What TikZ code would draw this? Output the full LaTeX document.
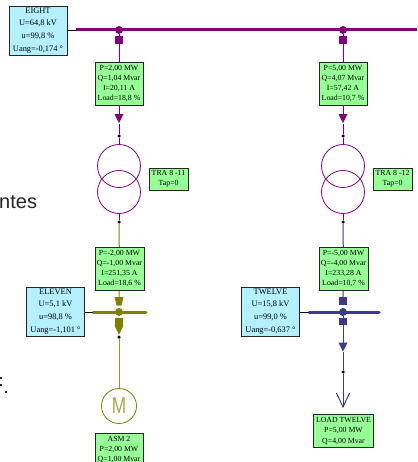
\documentclass[tikz,border=0pt]{standalone}
\usepackage{fontspec}
\setmainfont{Liberation Serif}
\newfontfamily\labelfont{Liberation Sans}
\usetikzlibrary{shapes.geometric}
\definecolor{busEight}{HTML}{800080}
\definecolor{busEleven}{HTML}{808000}
\definecolor{busTwelve}{HTML}{3B3B8A}
\definecolor{boxBlue}{HTML}{B4F0FF}
\definecolor{boxGreen}{HTML}{96FF96}
\tikzset{
  infobox/.style={draw=black!85, line width=0.9pt, align=center, inner sep=0pt},
  busbox/.style={infobox, fill=boxBlue, minimum width=58pt, minimum height=49pt, font=\fontsize{8.4}{12.8}\selectfont},
  flowbox/.style={infobox, fill=boxGreen, minimum width=48pt, minimum height=43pt, font=\fontsize{7.8}{10}\selectfont},
  tapbox/.style={infobox, fill=boxGreen, minimum width=39pt, minimum height=22pt, font=\fontsize{7.8}{10}\selectfont},
  dotnode/.style={circle, fill=black, inner sep=0pt, minimum size=3.5pt},
  junction/.style={circle, fill=#1, inner sep=0pt, minimum size=8pt},
  breaker/.style={rectangle, fill=#1, inner sep=0pt, minimum size=7.5pt},
  flowtip/.style={isosceles triangle, shape border rotate=-90, isosceles triangle stretches, fill=#1, inner sep=0pt, minimum width=9pt, minimum height=9pt},
  winding/.style={circle, draw=busEight, line width=0.8pt, inner sep=0pt, minimum size=43pt},
  branch/.style={line width=1pt},
  cuttext/.style={font=\labelfont\fontsize{20}{20}\selectfont, anchor=base west, inner sep=0pt, text=black!85},
  cutmark/.style={fill=black!85, inner sep=0pt, minimum size=2pt}
}
\begin{document}
\begin{tikzpicture}[x=1pt, y=-1pt]
  \useasboundingbox (0,0) rectangle (417,462);

  % Texto cortado a la izquierda
  \node[cuttext] (cut) at (-1,208) {ntes};
  \node[cutmark] (markA) at (1,378) {};
  \node[cutmark] (markB) at (0.5,385) {};
  \node[cutmark] (markC) at (6,392) {};

  % Barras
  \coordinate (eightL) at (76,30);
  \coordinate (eightR) at (417,30);
  \coordinate (elevenL) at (93,312);
  \coordinate (elevenR) at (146,312);
  \coordinate (twelveL) at (309,312);
  \coordinate (twelveR) at (379,312);
  \draw[busEight, line width=3pt] (eightL) -- (eightR);
  \draw[busEleven, line width=3pt, line cap=round] (elevenL) -- (elevenR);
  \draw[busTwelve, line width=3pt, line cap=round] (twelveL) -- (twelveR);

  % Cajas de las barras
  \node[busbox] (eight) at (38,30.5) {EIGHT\\U=64,8 kV\\u=99,8 \%\\Uang=-0,174 °};
  \node[busbox] (eleven) at (55.5,311.5) {ELEVEN\\U=5,1 kV\\u=98,8 \%\\Uang=-1,101 °};
  \node[busbox] (twelve) at (270.5,311.5) {TWELVE\\U=15,8 kV\\u=99,0 \%\\Uang=-0,637 °};
  \draw[line width=0.8pt] (eight.east |- eightL) -- (eightL);
  \draw[line width=0.8pt] (eleven.east |- elevenL) -- (elevenL);
  \draw[line width=0.8pt] (twelve.east |- twelveL) -- (twelveL);

  % Rama izquierda
  \node[junction=busEight] (busA) at (119,30) {};
  \node[breaker=busEight] (brkA) at (119,40) {};
  \node[flowbox] (flowA) at (119,83.5) {P=2,00 MW\\Q=1,04 Mvar\\I=20,11 A\\Load=18,8 \%};
  \node[flowtip=busEight] (tipA) at (119,117) {};
  \node[dotnode] (dotA) at (119,136) {};
  \node[winding] (upA) at (119,166) {};
  \node[winding] (lowA) at (119,192) {};
  \node[tapbox] (tapA) at (168.5,179) {TRA 8 -11\\Tap=0};
  \node[dotnode] (dotB) at (119,222) {};
  \node[flowbox, minimum width=49pt] (flowB) at (119.5,269) {P=-2,00 MW\\Q=-1,00 Mvar\\I=251,35 A\\Load=18,6 \%};
  \coordinate (brkB) at (119,301);
  \fill[busEleven] (114.5,297) -- (123.5,297) -- (121.5,305.5) -- (116.5,305.5) -- cycle;
  \node[junction=busEleven] (busB) at (119,312) {};
  \node[breaker=busEleven] (brkC) at (119,322) {};
  \node[flowtip=busEleven] (tipB) at (119,328.5) {};
  \node[dotnode] (dotC) at (119,337) {};
  \node[circle, draw=busEleven, line width=0.8pt, inner sep=0pt, minimum size=35pt, font=\labelfont\fontsize{23}{23}\selectfont, text=busEleven!70] (motor) at (119,406) {\scalebox{0.75}[1]{M}};
  \node[flowbox, minimum height=34pt, anchor=north] (asm) at (119,432.5) {ASM 2\\P=2,00 MW\\Q=1,00 Mvar};
  \draw[busEight, branch] (busA) -- (brkA) -- (flowA) -- (tipA) -- (dotA) -- (upA);
  \draw[busEight, branch] (lowA) -- (dotB);
  \draw[busEleven, branch] (dotB) -- (flowB) -- (brkB);
  \draw[busEleven!80, branch] (dotC) -- (motor);

  % Rama derecha
  \node[junction=busEight] (busC) at (343,30) {};
  \node[breaker=busEight] (brkD) at (343,40) {};
  \node[flowbox] (flowC) at (343,83.5) {P=5,00 MW\\Q=4,07 Mvar\\I=57,42 A\\Load=10,7 \%};
  \node[flowtip=busEight] (tipC) at (343,117) {};
  \node[dotnode] (dotD) at (343,136) {};
  \node[winding] (upB) at (343,166) {};
  \node[winding] (lowB) at (343,192) {};
  \node[tapbox] (tapB) at (392.5,179) {TRA 8 -12\\Tap=0};
  \node[dotnode] (dotE) at (343,222) {};
  \node[flowbox, minimum width=49pt] (flowD) at (343.5,269) {P=-5,00 MW\\Q=-4,00 Mvar\\I=233,28 A\\Load=10,7 \%};
  \node[breaker=busTwelve] (brkE) at (343,301) {};
  \node[junction=busTwelve] (busD) at (343,312) {};
  \node[breaker=busTwelve] (brkF) at (343,321.5) {};
  \node[flowtip=busTwelve] (tipD) at (343,345.5) {};
  \node[dotnode] (dotF) at (343,372) {};
  \coordinate (loadEnd) at (343,407);
  \coordinate (loadA) at (336.5,393);
  \coordinate (loadB) at (349.5,393);
  \node[infobox, fill=boxGreen, minimum width=60pt, minimum height=33pt, font=\fontsize{7.8}{10.2}\selectfont] (load) at (343.5,431) {LOAD TWELVE\\P=5,00 MW\\Q=4,00 Mvar};
  \draw[busEight, branch] (busC) -- (brkD) -- (flowC) -- (tipC) -- (dotD) -- (upB);
  \draw[busEight, branch] (lowB) -- (dotE);
  \draw[busTwelve, branch] (dotE) -- (flowD) -- (brkE);
  \draw[busTwelve, branch] (busD) -- (brkF) -- (tipD) -- (dotF) -- (loadEnd);
  \draw[busTwelve, branch] (loadA) -- (loadEnd) -- (loadB);

\end{tikzpicture}
\end{document}
